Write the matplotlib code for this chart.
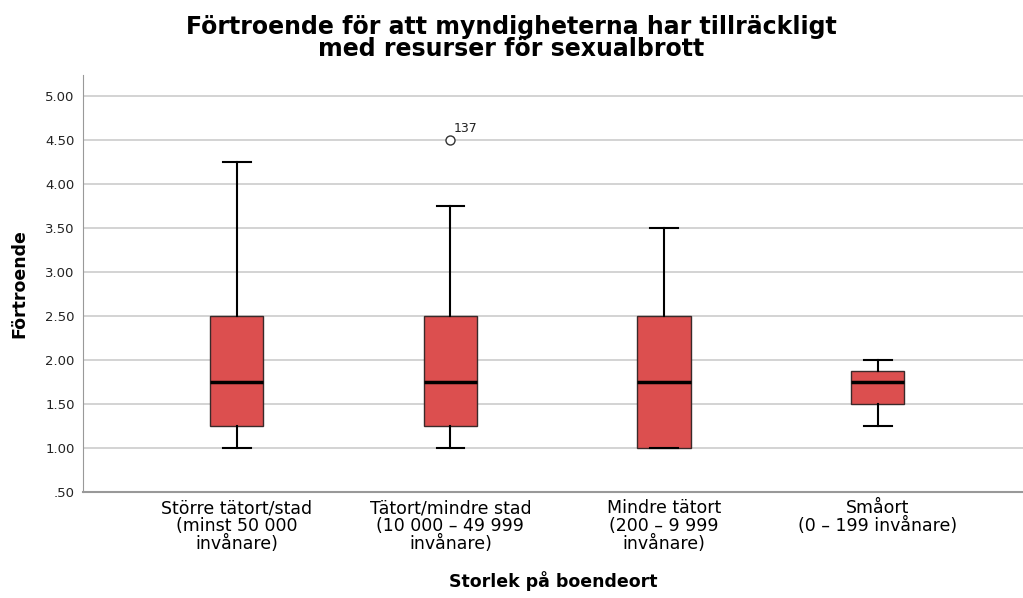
import matplotlib
matplotlib.use("Agg")
import matplotlib.pyplot as plt

# box statistics
categories = ["Större tätort/stad\n(minst 50 000\ninvånare)",
              "Tätort/mindre stad\n(10 000 – 49 999\ninvånare)",
              "Mindre tätort\n(200 – 9 999\ninvånare)",
              "Småort\n(0 – 199 invånare)"]
whislo = [1.00, 1.00, 1.00, 1.25]
q1 = [1.25, 1.25, 1.00, 1.50]
med = [1.75, 1.75, 1.75, 1.75]
q3 = [2.50, 2.50, 2.50, 1.875]
whishi = [4.25, 3.75, 3.50, 2.00]
outliers = [[], [4.50], [], []]
outlier_ids = [[], ["137"], [], []]
yticks = [0.5, 1.0, 1.5, 2.0, 2.5, 3.0, 3.5, 4.0, 4.5, 5.0]
ytick_labels = [".50", "1.00", "1.50", "2.00", "2.50", "3.00", "3.50", "4.00", "4.50", "5.00"]

stats = []
for i in range(len(categories)):
    stats.append(dict(whislo=whislo[i], q1=q1[i], med=med[i], q3=q3[i],
                      whishi=whishi[i], fliers=outliers[i]))

fig = plt.figure(figsize=(10.23, 5.98), dpi=100)
ax = fig.add_axes([0.0811, 0.177, 0.9189, 0.6977])

positions = [1, 2, 3, 4]
ax.bxp(stats, positions=positions, widths=0.25, patch_artist=True,
       boxprops=dict(facecolor="#dc4f4f", edgecolor="#3a2a2a", linewidth=1),
       medianprops=dict(color="black", linewidth=2.5),
       whiskerprops=dict(color="black", linewidth=1.5),
       capprops=dict(color="black", linewidth=1.5),
       capwidths=0.13,
       flierprops=dict(marker="o", markerfacecolor="white", markeredgecolor="#333333",
                       markersize=6.5, markeredgewidth=1),
       zorder=3)

for i in range(len(categories)):
    for v, lab in zip(outliers[i], outlier_ids[i]):
        ax.annotate(lab, (positions[i], v), xytext=(2, 6), textcoords="offset points",
                    fontsize=9, color="#222222")

ax.set_xlim(0.28, 4.68)
ax.set_ylim(0.5, 5.24)
ax.set_yticks(yticks)
ax.set_yticklabels(ytick_labels, fontsize=9.5, color="#222222")
ax.set_xticks(positions)
ax.set_xticklabels(categories, fontsize=12.5, linespacing=1.0)
ax.tick_params(axis="both", length=0)
ax.tick_params(axis="x", pad=5)
ax.tick_params(axis="y", pad=6)
ax.yaxis.grid(True, color="#cccccc", linewidth=1.2, zorder=0)
ax.set_axisbelow(True)
for s in ["top", "right"]:
    ax.spines[s].set_visible(False)
ax.spines["left"].set_color("#999999")
ax.spines["bottom"].set_color("#999999")
ax.spines["bottom"].set_linewidth(1.5)

ax.set_ylabel("Förtroende", fontsize=12.5, fontweight="bold", labelpad=12)
ax.set_xlabel("Storlek på boendeort", fontsize=12.5, fontweight="bold", labelpad=13)
fig.suptitle("Förtroende för att myndigheterna har tillräckligt\nmed resurser för sexualbrott",
             x=0.5, y=0.975, fontsize=17, fontweight="bold", linespacing=0.9)

fig.savefig("out.png", dpi=100)
